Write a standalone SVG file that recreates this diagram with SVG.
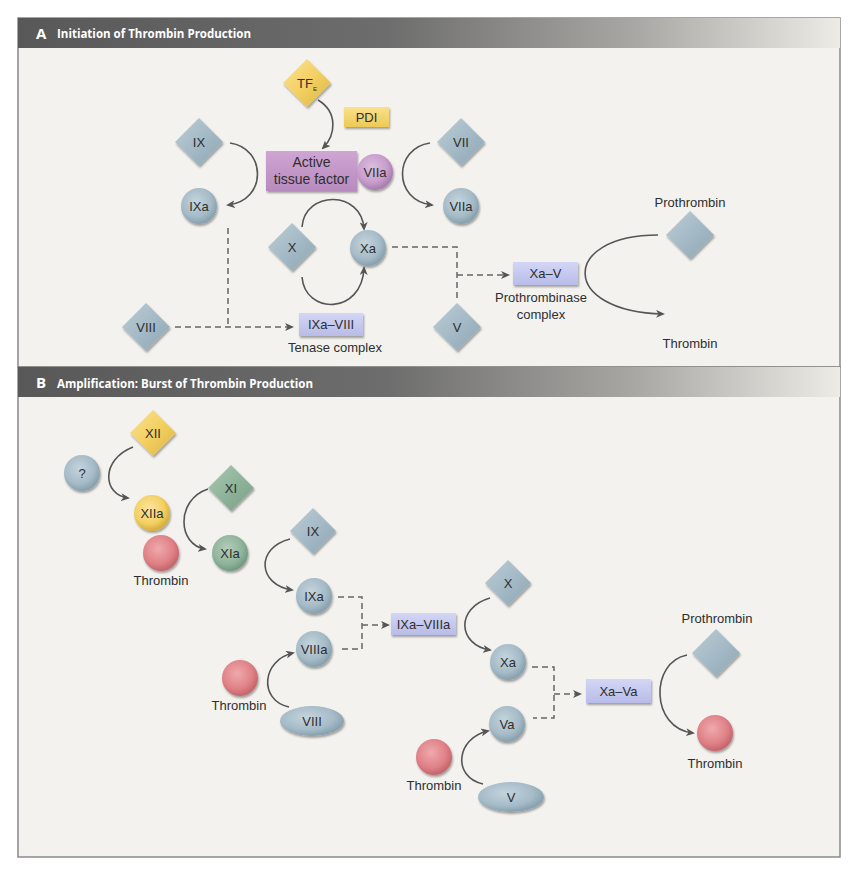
<svg xmlns="http://www.w3.org/2000/svg" width="859" height="876" viewBox="0 0 859 876">
<defs>
<style>
.lbl{font-family:"Liberation Sans",Arial,sans-serif;font-size:13px;fill:#2e2e2e;text-anchor:middle}
.nl{font-family:"Liberation Sans",Arial,sans-serif;font-size:13px;fill:#2e2e2e;text-anchor:middle}
.hdr{font-family:"Open Sans","Liberation Sans",sans-serif;font-weight:bold;fill:#ffffff}
.arc{fill:none;stroke:#555;stroke-width:1.6;marker-end:url(#ah)}
.dash{fill:none;stroke:#666;stroke-width:1.5;stroke-dasharray:6 4}
.dasha{fill:none;stroke:#666;stroke-width:1.5;stroke-dasharray:6 4;marker-end:url(#ah)}
.sh{filter:url(#ds)}
</style>
<marker id="ah" viewBox="0 0 9 8" refX="7" refY="4" markerWidth="9" markerHeight="8" markerUnits="userSpaceOnUse" orient="auto">
<path d="M0,0 L9,4 L0,8 L2.5,4 z" fill="#555"/>
</marker>
<filter id="ds" x="-30%" y="-30%" width="160%" height="160%">
<feDropShadow dx="1" dy="2" stdDeviation="1.2" flood-color="#000" flood-opacity="0.35"/>
</filter>
<linearGradient id="hg" x1="0" y1="0" x2="1" y2="0">
<stop offset="0" stop-color="#585858"/>
<stop offset="0.45" stop-color="#6d6d6d"/>
<stop offset="0.75" stop-color="#a9a7a3"/>
<stop offset="1" stop-color="#ecebe6"/>
</linearGradient>
<radialGradient id="cB" cx="0.42" cy="0.38" r="0.6">
<stop offset="0" stop-color="#c4d4dd"/><stop offset="0.7" stop-color="#a5bbc7"/><stop offset="1" stop-color="#8aa2b0"/>
</radialGradient>
<radialGradient id="cY" cx="0.42" cy="0.38" r="0.6">
<stop offset="0" stop-color="#fbe6a0"/><stop offset="0.7" stop-color="#f3d062"/><stop offset="1" stop-color="#d8b03f"/>
</radialGradient>
<radialGradient id="cG" cx="0.42" cy="0.38" r="0.6">
<stop offset="0" stop-color="#b3cdb9"/><stop offset="0.7" stop-color="#8fb49b"/><stop offset="1" stop-color="#759c83"/>
</radialGradient>
<radialGradient id="cR" cx="0.42" cy="0.38" r="0.6">
<stop offset="0" stop-color="#f0a9ac"/><stop offset="0.7" stop-color="#df8187"/><stop offset="1" stop-color="#c6676d"/>
</radialGradient>
<radialGradient id="cP" cx="0.42" cy="0.38" r="0.6">
<stop offset="0" stop-color="#dcbfe0"/><stop offset="0.7" stop-color="#c79ccc"/><stop offset="1" stop-color="#a97fb0"/>
</radialGradient>
<linearGradient id="dB" x1="0" y1="0" x2="1" y2="1">
<stop offset="0" stop-color="#bccdd6"/><stop offset="0.5" stop-color="#a4bac6"/><stop offset="1" stop-color="#8ea6b3"/>
</linearGradient>
<linearGradient id="dY" x1="0" y1="0" x2="1" y2="1">
<stop offset="0" stop-color="#fae295"/><stop offset="0.5" stop-color="#f3d062"/><stop offset="1" stop-color="#dcb545"/>
</linearGradient>
<linearGradient id="dG" x1="0" y1="0" x2="1" y2="1">
<stop offset="0" stop-color="#acc8b3"/><stop offset="0.5" stop-color="#8fb49b"/><stop offset="1" stop-color="#789f86"/>
</linearGradient>
<linearGradient id="rL" x1="0" y1="0" x2="0" y2="1">
<stop offset="0" stop-color="#d3d6f5"/><stop offset="1" stop-color="#b8bce8"/>
</linearGradient>
<linearGradient id="rP" x1="0" y1="0" x2="0" y2="1">
<stop offset="0" stop-color="#cfa5d3"/><stop offset="1" stop-color="#b78bbe"/>
</linearGradient>
<linearGradient id="rY" x1="0" y1="0" x2="0" y2="1">
<stop offset="0" stop-color="#f9e08c"/><stop offset="1" stop-color="#eec955"/>
</linearGradient>
</defs>

<rect width="859" height="876" fill="#ffffff"/>
<!-- panels -->
<g id="panelA">
<rect x="18" y="18" width="822" height="349" fill="#f3f2ee" stroke="#8a8a8a" stroke-width="1.5"/>
<rect x="18" y="18" width="822" height="30" fill="url(#hg)"/>
<text x="36" y="39" class="hdr" font-size="15">A</text>
<text x="57" y="38" class="hdr" font-size="12.5" textLength="194" lengthAdjust="spacingAndGlyphs">Initiation of Thrombin Production</text>
</g>
<g id="panelB">
<rect x="18" y="367" width="822" height="490" fill="#f3f2ee" stroke="#8a8a8a" stroke-width="1.5"/>
<rect x="18" y="367" width="822" height="30" fill="url(#hg)"/>
<text x="36" y="388" class="hdr" font-size="15">B</text>
<text x="57" y="388" class="hdr" font-size="12.5" textLength="256" lengthAdjust="spacingAndGlyphs">Amplification: Burst of Thrombin Production</text>
</g>

<g id="connectors">
<!-- Panel A -->
<path class="arc" d="M318,100 C338,112 336,135 323,148"/>
<path class="arc" d="M230,143 C266,148 268,200 228,205"/>
<path class="arc" d="M430,143 C394,148 392,200 432,205"/>
<path class="arc" d="M302,227 C305,190 362,190 364,229"/>
<path class="arc" d="M302,277 C305,315 362,315 364,268"/>
<path class="arc" d="M658,235 C560,235 560,312 663,314"/>
<path class="dash" d="M228,228 L228,327"/>
<path class="dasha" d="M175,327 L292,327"/>
<path class="dash" d="M392,247 L457,247 L457,298"/>
<path class="dasha" d="M457,275 L508,275"/>
<!-- Panel B -->
<path class="arc" d="M133,447 C100,460 103,495 128,498"/>
<path class="arc" d="M208,489 C175,500 178,545 205,549"/>
<path class="arc" d="M290,539 C255,548 258,585 292,590"/>
<path class="arc" d="M490,598 C455,608 458,645 490,650"/>
<path class="arc" d="M289,707 C258,700 262,660 293,653"/>
<path class="arc" d="M483,784 C452,777 456,738 488,731"/>
<path class="arc" d="M687,655 C650,662 650,728 693,733"/>
<path class="dash" d="M338,597 L362,597 L362,649 L342,649"/>
<path class="dasha" d="M362,625 L388,625"/>
<path class="dash" d="M532,667 L554,667 L554,718 L533,718"/>
<path class="dasha" d="M554,694 L580,694"/>
</g>

<!-- Panel A nodes -->
<g id="A_TFE"><path class="sh" d="M307,59 L331,83 L307,107 L283,83 z" fill="url(#dY)"/><text x="307" y="87.5" class="nl">TF<tspan style="font-size:6px" dy="3">E</tspan></text></g>
<g id="A_PDI"><rect class="sh" x="344" y="107" width="45" height="20" fill="url(#rY)"/><text x="366.5" y="122" class="nl">PDI</text></g>
<g id="A_ATF"><rect class="sh" x="266" y="151" width="91" height="40" fill="url(#rP)"/><text x="311.5" y="167" class="lbl" style="font-size:14px">Active</text><text x="311.5" y="184" class="lbl" style="font-size:14px">tissue factor</text></g>
<g id="A_VIIa_p"><circle class="sh" cx="375" cy="172" r="18" fill="url(#cP)"/><text x="375" y="176.5" class="nl">VIIa</text></g>
<g id="A_IX"><path class="sh" d="M199,118 L223,142 L199,166 L175,142 z" fill="url(#dB)"/><text x="199" y="146.5" class="nl">IX</text></g>
<g id="A_IXa"><circle class="sh" cx="199" cy="206" r="18" fill="url(#cB)"/><text x="199" y="210.5" class="nl">IXa</text></g>
<g id="A_VII"><path class="sh" d="M461,118 L485,142 L461,166 L437,142 z" fill="url(#dB)"/><text x="461" y="146.5" class="nl">VII</text></g>
<g id="A_VIIa"><circle class="sh" cx="461" cy="206" r="18" fill="url(#cB)"/><text x="461" y="210.5" class="nl">VIIa</text></g>
<g id="A_X"><path class="sh" d="M292,223 L316,247 L292,271 L268,247 z" fill="url(#dB)"/><text x="292" y="251.5" class="nl">X</text></g>
<g id="A_Xa"><circle class="sh" cx="368" cy="248" r="18" fill="url(#cB)"/><text x="368" y="252.5" class="nl">Xa</text></g>
<g id="A_VIII"><path class="sh" d="M146,303 L170,327 L146,351 L122,327 z" fill="url(#dB)"/><text x="146" y="331.5" class="nl">VIII</text></g>
<g id="A_tenase"><rect class="sh" x="299" y="313" width="64" height="23" fill="url(#rL)"/><text x="331" y="329" class="nl">IXa–VIII</text><text x="335" y="352" class="lbl">Tenase complex</text></g>
<g id="A_V"><path class="sh" d="M457,303 L481,327 L457,351 L433,327 z" fill="url(#dB)"/><text x="457" y="331.5" class="nl">V</text></g>
<g id="A_XaV"><rect class="sh" x="513" y="262" width="65" height="23" fill="url(#rL)"/><text x="545.5" y="278" class="nl">Xa–V</text><text x="541" y="302" class="lbl">Prothrombinase</text><text x="541" y="319" class="lbl">complex</text></g>
<g id="A_Prothrombin"><path class="sh" d="M690,211 L714,235 L690,259 L666,235 z" fill="url(#dB)"/><text x="690" y="207" class="lbl">Prothrombin</text></g>
<g id="A_Thrombin"><text x="690" y="348" class="lbl">Thrombin</text></g>

<!-- Panel B nodes -->
<g id="B_XII"><path class="sh" d="M153,410 L176,433 L153,456 L130,433 z" fill="url(#dY)"/><text x="153" y="437.5" class="nl">XII</text></g>
<g id="B_Q"><circle class="sh" cx="82" cy="473" r="18" fill="url(#cB)"/><text x="82" y="477.5" class="nl">?</text></g>
<g id="B_XIIa"><circle class="sh" cx="152" cy="513" r="18" fill="url(#cY)"/><text x="152" y="517.5" class="nl">XIIa</text></g>
<g id="B_XI"><path class="sh" d="M231,465 L254,488 L231,511 L208,488 z" fill="url(#dG)"/><text x="231" y="492.5" class="nl">XI</text></g>
<g id="B_Thrombin1"><circle class="sh" cx="161" cy="553" r="18" fill="url(#cR)"/><text x="161" y="585" class="lbl">Thrombin</text></g>
<g id="B_XIa"><circle class="sh" cx="230" cy="553" r="18" fill="url(#cG)"/><text x="230" y="557.5" class="nl">XIa</text></g>
<g id="B_IX"><path class="sh" d="M313,508 L336,531 L313,554 L290,531 z" fill="url(#dB)"/><text x="313" y="535.5" class="nl">IX</text></g>
<g id="B_IXa"><circle class="sh" cx="314" cy="596" r="18" fill="url(#cB)"/><text x="314" y="600.5" class="nl">IXa</text></g>
<g id="B_VIIIa"><circle class="sh" cx="314" cy="649" r="18" fill="url(#cB)"/><text x="314" y="653.5" class="nl">VIIIa</text></g>
<g id="B_Thrombin2"><circle class="sh" cx="240" cy="678" r="18" fill="url(#cR)"/><text x="239" y="710" class="lbl">Thrombin</text></g>
<g id="B_VIII"><ellipse class="sh" cx="312" cy="721" rx="32" ry="15" fill="url(#cB)"/><text x="312" y="725.5" class="nl">VIII</text></g>
<g id="B_IXaVIIIa"><rect class="sh" x="391" y="613" width="65" height="22" fill="url(#rL)"/><text x="423.5" y="628.5" class="nl">IXa–VIIIa</text></g>
<g id="B_X"><path class="sh" d="M508,560 L531,583 L508,606 L485,583 z" fill="url(#dB)"/><text x="508" y="587.5" class="nl">X</text></g>
<g id="B_Xa"><circle class="sh" cx="508" cy="662" r="18" fill="url(#cB)"/><text x="508" y="666.5" class="nl">Xa</text></g>
<g id="B_Va"><circle class="sh" cx="507" cy="724" r="18" fill="url(#cB)"/><text x="507" y="728.5" class="nl">Va</text></g>
<g id="B_Thrombin3"><circle class="sh" cx="434" cy="757" r="18" fill="url(#cR)"/><text x="434" y="790" class="lbl">Thrombin</text></g>
<g id="B_V"><ellipse class="sh" cx="511" cy="797" rx="33" ry="15" fill="url(#cB)"/><text x="511" y="801.5" class="nl">V</text></g>
<g id="B_XaVa"><rect class="sh" x="586" y="679" width="65" height="24" fill="url(#rL)"/><text x="618.5" y="695.5" class="nl">Xa–Va</text></g>
<g id="B_Prothrombin"><path class="sh" d="M716,629 L740,653 L716,677 L692,653 z" fill="url(#dB)"/><text x="717" y="623" class="lbl">Prothrombin</text></g>
<g id="B_Thrombin4"><circle class="sh" cx="715" cy="733" r="18" fill="url(#cR)"/><text x="715" y="768" class="lbl">Thrombin</text></g>
</svg>
